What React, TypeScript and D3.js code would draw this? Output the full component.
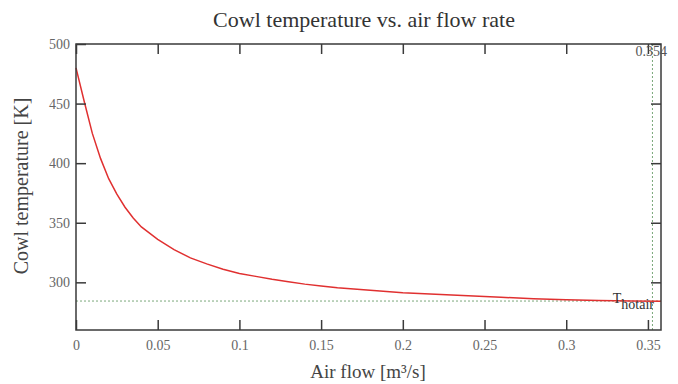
import React, { useEffect, useRef } from 'react';
import * as d3 from 'd3';

// air flow [m^3/s] and cowl temperature [K]
const flow = [0, 0.005, 0.01, 0.015, 0.02, 0.025, 0.03, 0.035, 0.04, 0.05, 0.06, 0.07, 0.08, 0.09, 0.1, 0.11, 0.12, 0.13, 0.14, 0.15, 0.16, 0.17, 0.18, 0.19, 0.2, 0.22, 0.24, 0.26, 0.28, 0.3, 0.32, 0.34, 0.358];
const temp = [480, 452, 425, 404, 387, 374, 363, 354, 346.5, 336, 327.5, 320.5, 315.5, 311, 307.5, 305, 302.5, 300.5, 298.5, 297, 295.5, 294.5, 293.3, 292.3, 291.3, 290, 288.8, 287.5, 286.2, 285.3, 284.8, 284.4, 284.2];

const xTicks = [0, 0.05, 0.1, 0.15, 0.2, 0.25, 0.3, 0.35];
const yTicks = [300, 350, 400, 450, 500];

const tHotAir = 284.3;
const flowMarker = 0.354;

const App = () => {
  const ref = useRef<SVGSVGElement>(null);

  useEffect(() => {
    const width = 678;
    const height = 384;
    const margin = { top: 44, right: 17, bottom: 54, left: 76 };
    const iw = width - margin.left - margin.right;
    const ih = height - margin.top - margin.bottom;

    const svg = d3.select(ref.current);
    svg.selectAll('*').remove();
    svg.attr('width', width).attr('height', height);

    const g = svg.append('g').attr('transform', `translate(${margin.left}, ${margin.top})`);

    const x = d3.scaleLinear().domain([0, 0.358]).range([0, iw]);
    const y = d3.scaleLinear().domain([260, 500]).range([ih, 0]);

    const font = '"Liberation Serif", "DejaVu Serif", serif';
    const axisColor = '#3a3a3a';
    const labelColor = '#666';

    // MARKER LINES

    g.append('line')
      .attr('x1', 0).attr('x2', iw)
      .attr('y1', y(tHotAir)).attr('y2', y(tHotAir))
      .attr('stroke', '#7aa87a')
      .attr('stroke-width', 1)
      .attr('stroke-dasharray', '2,2');

    g.append('line')
      .attr('x1', x(flowMarker) - 2).attr('x2', x(flowMarker) - 2)
      .attr('y1', 0).attr('y2', ih)
      .attr('stroke', '#7aa87a')
      .attr('stroke-width', 1)
      .attr('stroke-dasharray', '2,2');

    // CURVE

    const line = d3.line<number>()
      .x((d, i) => x(flow[i]))
      .y(d => y(d));

    g.append('path')
      .datum(temp)
      .attr('fill', 'none')
      .attr('stroke', '#e03030')
      .attr('stroke-width', 1.5)
      .attr('d', line);

    // AXES (boxed, ticks pointing inward)

    const tickLen = 10;
    const axisStyle = (sel: any) => {
      sel.attr('font-family', font).attr('font-size', 14);
      sel.select('.domain').remove();
      sel.selectAll('.tick line').attr('stroke', axisColor).attr('stroke-width', 1.5);
      sel.selectAll('.tick text').attr('fill', labelColor).attr('font-family', font);
    };

    g.append('g')
      .attr('transform', `translate(0, ${ih})`)
      .call(d3.axisBottom(x).tickValues(xTicks).tickSizeInner(-tickLen).tickSizeOuter(0).tickPadding(10).tickFormat(d3.format('')))
      .call(axisStyle);

    g.append('g')
      .call(d3.axisTop(x).tickValues(xTicks).tickSizeInner(-tickLen).tickSizeOuter(0).tickFormat(() => ''))
      .call(axisStyle);

    g.append('g')
      .call(d3.axisLeft(y).tickValues(yTicks).tickSizeInner(-tickLen).tickSizeOuter(0).tickPadding(6))
      .call(axisStyle);

    g.append('g')
      .attr('transform', `translate(${iw}, 0)`)
      .call(d3.axisRight(y).tickValues(yTicks).tickSizeInner(-tickLen).tickSizeOuter(0).tickFormat(() => ''))
      .call(axisStyle);

    g.append('rect')
      .attr('width', iw)
      .attr('height', ih)
      .attr('fill', 'none')
      .attr('stroke', axisColor)
      .attr('stroke-width', 1.5);

    // MARKER LABELS

    g.append('text')
      .attr('x', x(flowMarker) - 19)
      .attr('y', 12)
      .attr('fill', '#555')
      .attr('font-family', font)
      .attr('font-size', 14)
      .text(String(flowMarker));

    const tLabel = g.append('text')
      .attr('x', x(0.3285))
      .attr('y', y(tHotAir) + 2)
      .attr('fill', '#333')
      .attr('font-family', font)
      .attr('font-size', 14);
    tLabel.append('tspan').text('T');
    tLabel.append('tspan').attr('dy', 6).attr('dx', 0).text('hotair');

    // TITLES

    svg.append('text')
      .attr('x', 364)
      .attr('y', 27)
      .attr('text-anchor', 'middle')
      .attr('fill', '#333')
      .attr('font-family', font)
      .attr('font-size', 22)
      .text('Cowl temperature vs. air flow rate');

    svg.append('text')
      .attr('x', 368)
      .attr('y', 378)
      .attr('text-anchor', 'middle')
      .attr('fill', '#444')
      .attr('font-family', font)
      .attr('font-size', 19)
      .text('Air flow [m³/s]');

    svg.append('text')
      .attr('transform', `translate(28, ${186}) rotate(-90)`)
      .attr('text-anchor', 'middle')
      .attr('fill', '#444')
      .attr('font-family', font)
      .attr('font-size', 20)
      .text('Cowl temperature [K]');
  }, []);

  return <svg ref={ref} style={{ position: 'absolute', left: 0, top: 0 }} />;
};

export default App;
